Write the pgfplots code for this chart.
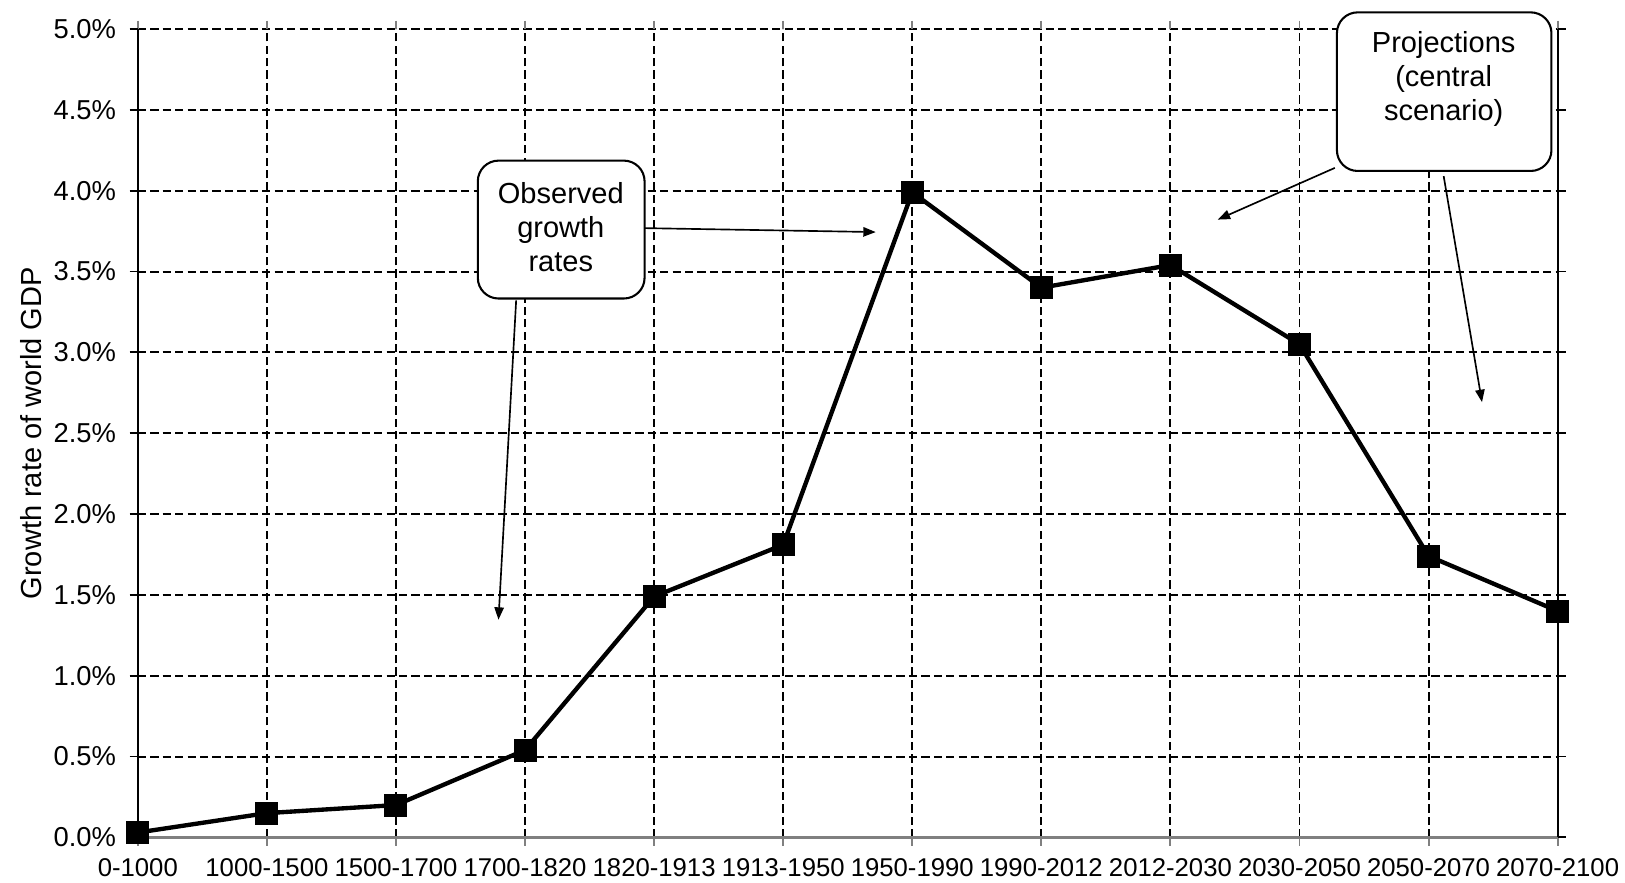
\documentclass[border=0pt]{standalone}
\usepackage{pgfplots}
\pgfplotsset{compat=1.18}
\usepackage{fontspec}
\setmainfont{Liberation Sans}
\usetikzlibrary{arrows.meta}

\begin{document}
\begin{tikzpicture}[x=1pt,y=1pt]
\begin{axis}[
  at={(0,0)}, anchor=south west,
  width=685pt, height=390pt, scale only axis,
  xmin=0, xmax=11, ymin=0, ymax=5,
  xtick={0,...,11},
  xticklabels={0-1000,1000-1500,1500-1700,1700-1820,1820-1913,1913-1950,1950-1990,1990-2012,2012-2030,2030-2050,2050-2070,2070-2100},
  ytick={0,0.5,...,5},
  yticklabels={0.0\%,0.5\%,1.0\%,1.5\%,2.0\%,2.5\%,3.0\%,3.5\%,4.0\%,4.5\%,5.0\%},
  xticklabel style={font=\fontsize{12.4}{14}\selectfont, yshift=-2.5pt},
  yticklabel style={font=\fontsize{13.2}{15}\selectfont, xshift=-3pt},
  ylabel={Growth rate of world GDP},
  ylabel style={font=\fontsize{14}{16}\selectfont, at={(axis description cs:-0.0752,0.5)}, anchor=center},
  grid=major,
  grid style={black, line width=0.95pt, dash pattern=on 4pt off 2pt},
  axis line style={draw=none},
  tick align=outside,
  major tick length=4pt,
  xtick style={gray, line width=0.9pt},
  ytick style={black, line width=0.9pt},
  clip=false,
]
\draw[gray, line width=1.1pt] (rel axis cs:0,0) -- (rel axis cs:1,0);
\draw[black, line width=1.1pt] (rel axis cs:0,0) -- (rel axis cs:0,1);
\draw[black, line width=1.1pt] (rel axis cs:1,0) -- (rel axis cs:1,1);

\addplot[black, line width=2.1pt, mark=square*, mark size=4.5pt, mark options={solid}] coordinates {
  (0,0.03) (1,0.15) (2,0.20) (3,0.54) (4,1.49) (5,1.81)
  (6,3.99) (7,3.40) (8,3.54) (9,3.05) (10,1.74) (11,1.40)
};

% annotations
\draw[line width=0.8pt, -{Triangle[length=6pt,width=4.5pt]}] (axis cs:3.886,3.769) -- (axis cs:5.717,3.744);
\draw[line width=0.8pt, -{Triangle[length=6pt,width=4.5pt]}] (axis cs:2.931,3.321) -- (axis cs:2.794,1.346);
\draw[fill=white, line width=1pt, rounded corners=10pt] (axis cs:2.634,3.333) rectangle (axis cs:3.926,4.186);
\node[align=center, font=\fontsize{14}{16.5}\selectfont] at (axis cs:3.277,3.776) {Observed\\growth\\rates};

\draw[line width=0.8pt, -{Triangle[length=6pt,width=4.5pt]}] (axis cs:9.274,4.141) -- (axis cs:8.366,3.821);
\draw[line width=0.8pt, -{Triangle[length=6pt,width=4.5pt]}] (axis cs:10.117,4.090) -- (axis cs:10.414,2.692);
\draw[fill=white, line width=1pt, rounded corners=10pt] (axis cs:9.29,4.122) rectangle (axis cs:10.952,5.103);
\node[align=center, font=\fontsize{14}{16.5}\selectfont] at (axis cs:10.117,4.692) {Projections\\(central\\scenario)};
\end{axis}
\pgfresetboundingbox
\path[use as bounding box] (-66.5,-22) rectangle (717.5,404);
\end{tikzpicture}
\end{document}
